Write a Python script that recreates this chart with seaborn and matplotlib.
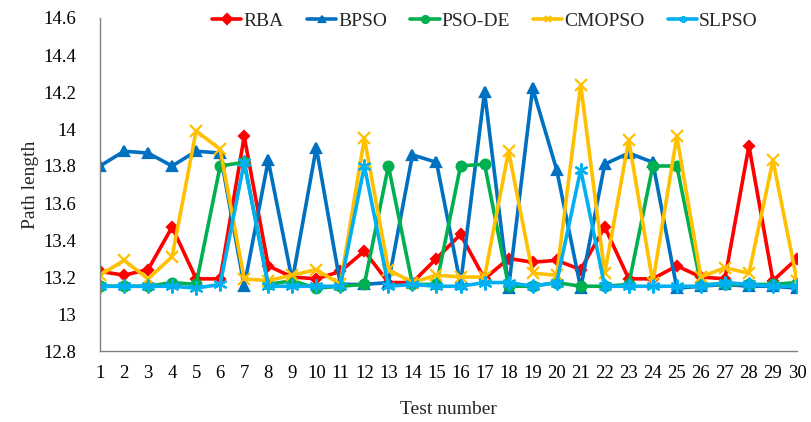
import numpy as np
import pandas as pd
import matplotlib
matplotlib.use("Agg")
import matplotlib.pyplot as plt
import seaborn as sns

tests = list(range(1, 31))
rba = [13.23, 13.21, 13.24, 13.47, 13.19, 13.19, 13.96, 13.26, 13.20, 13.19,
       13.23, 13.34, 13.17, 13.17, 13.30, 13.43, 13.19, 13.30, 13.28, 13.29,
       13.24, 13.47, 13.19, 13.19, 13.26, 13.20, 13.19, 13.91, 13.18, 13.30]
bpso = [13.80, 13.88, 13.87, 13.80, 13.88, 13.87, 13.15, 13.83, 13.18, 13.90,
        13.16, 13.16, 13.17, 13.86, 13.82, 13.16, 14.20, 13.14, 14.22, 13.78,
        13.14, 13.81, 13.87, 13.82, 13.14, 13.15, 13.16, 13.15, 13.15, 13.14]
psode = [13.15, 13.15, 13.15, 13.17, 13.16, 13.80, 13.82, 13.16, 13.18, 13.14,
         13.15, 13.16, 13.80, 13.16, 13.16, 13.80, 13.81, 13.15, 13.15, 13.17,
         13.15, 13.15, 13.16, 13.80, 13.80, 13.16, 13.16, 13.16, 13.16, 13.17]
cmopso = [13.21, 13.29, 13.19, 13.31, 13.99, 13.89, 13.19, 13.18, 13.21, 13.24,
          13.16, 13.95, 13.24, 13.17, 13.21, 13.20, 13.20, 13.88, 13.22, 13.21,
          14.24, 13.22, 13.94, 13.17, 13.96, 13.20, 13.25, 13.22, 13.83, 13.18]
slpso = [13.15, 13.15, 13.15, 13.15, 13.14, 13.16, 13.82, 13.15, 13.15, 13.15,
         13.15, 13.80, 13.15, 13.16, 13.15, 13.15, 13.17, 13.17, 13.15, 13.17,
         13.78, 13.15, 13.15, 13.15, 13.15, 13.15, 13.17, 13.16, 13.15, 13.15]

names = ["RBA", "BPSO", "PSO-DE", "CMOPSO", "SLPSO"]
series = [rba, bpso, psode, cmopso, slpso]
colors = ["#FF0000", "#0070C0", "#00B050", "#FFC000", "#00B0F0"]
markers = ["D", "^", "o", "x", (6, 2, 0)]
msizes = [5, 7, 7, 9, 10]

sns.set_style("white")
plt.rcParams["font.family"] = ["Liberation Serif", "DejaVu Serif"]

fig = plt.figure(figsize=(8.12, 4.22), dpi=100)
ax = fig.add_axes([100/812, 1 - 351/422, 697/812, 333/422])

for name, vals, c, m, ms in zip(names, series, colors, markers, msizes):
    df = pd.DataFrame({"Test": tests, "Length": vals})
    sns.lineplot(data=df, x="Test", y="Length", ax=ax, color=c, lw=2.6,
                 marker=m, markersize=ms, markeredgecolor=c, markeredgewidth=1.6,
                 label=name)

ax.set_xlim(1, 30)
ax.set_ylim(12.8, 14.6)
ax.set_xticks(tests)
ax.set_xticklabels([str(t) for t in tests])
yt = [12.8, 13.0, 13.2, 13.4, 13.6, 13.8, 14.0, 14.2, 14.4, 14.6]
ax.set_yticks(yt)
ax.set_yticklabels(["12.8", "13", "13.2", "13.4", "13.6", "13.8", "14", "14.2", "14.4", "14.6"])

for s in ["top", "right"]:
    ax.spines[s].set_visible(False)
for s in ["left", "bottom"]:
    ax.spines[s].set_color("#808080")
    ax.spines[s].set_linewidth(1.0)
ax.tick_params(axis="both", direction="in", length=5, color="#808080",
               labelsize=13.5, labelcolor="black")
ax.tick_params(axis="y", pad=17)
ax.tick_params(axis="x", pad=10)

ax.set_xlabel("Test number", fontsize=14, labelpad=14)
ax.set_ylabel("Path length", fontsize=14, labelpad=3)

leg = ax.legend(loc="upper left", bbox_to_anchor=(0.15, 1.04), ncol=5, frameon=False,
                fontsize=14, handlelength=1.5, handletextpad=0.1, columnspacing=1.2,
                borderaxespad=0)
for h in leg.legend_handles:
    h.set_markersize(5)

ax.grid(False)
fig.savefig("out.png", dpi=100)
